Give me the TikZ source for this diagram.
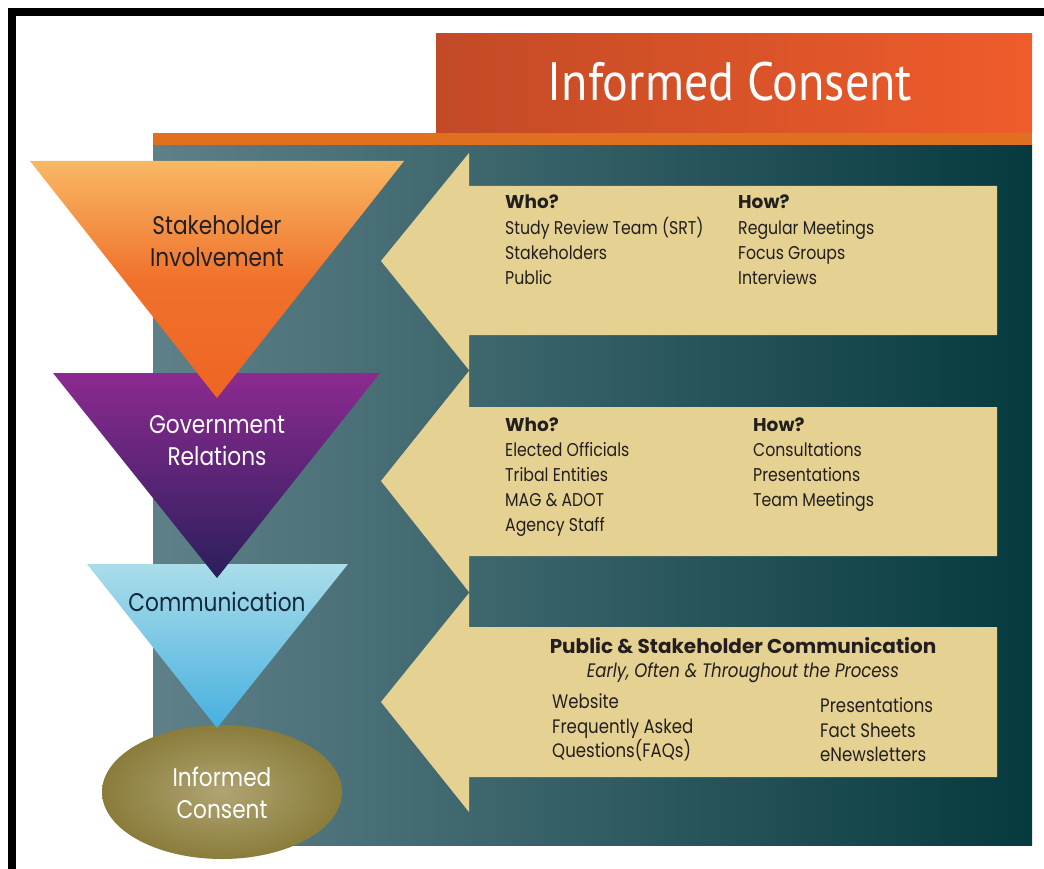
\documentclass[tikz,border=0pt]{standalone}
\usepackage{fontspec}
\setmainfont{Poppins}[FakeStretch=0.85]
\newfontfamily\heavyfont{Poppins}
\newfontfamily\titlefont[FakeStretch=0.89]{PT Sans}
\usetikzlibrary{shapes.geometric}

\definecolor{frame}{HTML}{000000}
\definecolor{titleL}{HTML}{C24A26}
\definecolor{titleR}{HTML}{EF5C2B}
\definecolor{band}{HTML}{E0701F}
\definecolor{tealL}{HTML}{5F8088}
\definecolor{tealR}{HTML}{053A3F}
\definecolor{beige}{HTML}{E5D292}
\definecolor{oraT}{HTML}{F9B864}
\definecolor{oraB}{HTML}{EE6522}
\definecolor{purT}{HTML}{8C2A90}
\definecolor{purB}{HTML}{2A1F5C}
\definecolor{bluT}{HTML}{AADDEA}
\definecolor{bluB}{HTML}{47B0DF}
\definecolor{goldC}{HTML}{B0A473}
\definecolor{goldE}{HTML}{8A7C3A}
\definecolor{ink}{HTML}{231F20}
\definecolor{navyink}{HTML}{14283A}

\tikzset{
  listtext/.style={anchor=base west, inner sep=0pt, text=ink, font=\fontsize{18.5}{22}\selectfont},
  biglisttext/.style={listtext, font=\fontsize{19.5}{23}\selectfont},
  headtext/.style={listtext, font=\heavyfont\fontsize{18.5}{22}\selectfont\bfseries},
  stagetext/.style={anchor=base, inner sep=0pt, font=\fontsize{25.5}{30}\selectfont},
  infoarrow/.style={fill=beige},
}

\begin{document}
\begin{tikzpicture}[x=1pt,y=-1pt]
\useasboundingbox (0,0) rectangle (1044,869);
\fill[white] (0,0) rectangle (1044,869);

% frame edges
\fill[frame] (8,8) rectangle (1044,16);
\fill[frame] (8,8) rectangle (16,869);

% title banner
\shade[left color=titleL, right color=titleR] (436,34) rectangle (1032,133);
\node[anchor=base, inner sep=0pt, text=white, font=\titlefont\fontsize{54}{60}\selectfont]
  (title) at (730,101) {Informed Consent};

% orange band and teal panel
\fill[band] (153,133) rectangle (1032,146);
\shade[left color=tealL, right color=tealR] (153,146) rectangle (1032,845);

% three left-pointing arrows
\fill[infoarrow] (469,153) -- (469,186) -- (997,186) -- (997,335) -- (469,335) -- (469,370) -- (381,261) -- cycle;
\fill[infoarrow] (469,371) -- (469,407) -- (997,407) -- (997,556) -- (469,556) -- (469,592) -- (381,481) -- cycle;
\fill[infoarrow] (469,593) -- (469,627) -- (997,627) -- (997,777) -- (469,777) -- (469,812) -- (381,702) -- cycle;

% stage shapes, lower ones first so each tip overlaps the next
\shade[inner color=goldC, outer color=goldE] (222,792) ellipse [x radius=120, y radius=67];
\shade[top color=bluT, bottom color=bluB] (87,564) -- (348,564) -- (217,728) -- cycle;
\shade[top color=purT, bottom color=purB] (53,373) -- (380,373) -- (217,578) -- cycle;
\shade[top color=oraT, bottom color=oraB, middle color=oraB!85!oraT] (30,161) -- (404,161) -- (217,398) -- cycle;

% stage labels
\node[stagetext, text=ink] (s1a) at (217,234) {Stakeholder};
\node[stagetext, text=ink] (s1b) at (217,266) {Involvement};
\node[stagetext, text=white] (s2a) at (217,433) {Government};
\node[stagetext, text=white] (s2b) at (217,465) {Relations};
\node[stagetext, text=navyink] (s3) at (217,611) {Communication};
\node[stagetext, text=white] (s4a) at (222,786) {Informed};
\node[stagetext, text=white] (s4b) at (222,818) {Consent};

% arrow 1 contents
\node[headtext] (a1who) at (505,209) {Who?};
\foreach \t [count=\i] in {Study Review Team (SRT), Stakeholders, Public}
  \node[listtext] (a1w\i) at (505,209+25*\i) {\t};
\node[headtext] (a1how) at (738,209) {How?};
\foreach \t [count=\i] in {Regular Meetings, Focus Groups, Interviews}
  \node[listtext] (a1h\i) at (738,209+25*\i) {\t};

% arrow 2 contents
\node[headtext] (a2who) at (505,431) {Who?};
\foreach \t [count=\i] in {Elected Officials, Tribal Entities, MAG \& ADOT, Agency Staff}
  \node[listtext] (a2w\i) at (505,431+25*\i) {\t};
\node[headtext] (a2how) at (753,431) {How?};
\foreach \t [count=\i] in {Consultations, Presentations, Team Meetings}
  \node[listtext] (a2h\i) at (753,431+25*\i) {\t};

% arrow 3 contents
\node[anchor=base, inner sep=0pt, text=ink, font=\heavyfont\fontsize{20}{24}\selectfont\bfseries]
  (a3head) at (743,653) {Public \& Stakeholder Communication};
\node[anchor=base, inner sep=0pt, text=ink, font=\fontsize{19.5}{23}\selectfont\itshape]
  (a3sub) at (743,677) {Early, Often \& Throughout the Process};
\foreach \t [count=\i] in {Website, Frequently Asked, Questions(FAQs)}
  \node[biglisttext] (a3l\i) at (552,684+24.5*\i) {\t};
\foreach \t [count=\i] in {Presentations, Fact Sheets, eNewsletters}
  \node[biglisttext] (a3r\i) at (820,688+24.5*\i) {\t};
\end{tikzpicture}
\end{document}
